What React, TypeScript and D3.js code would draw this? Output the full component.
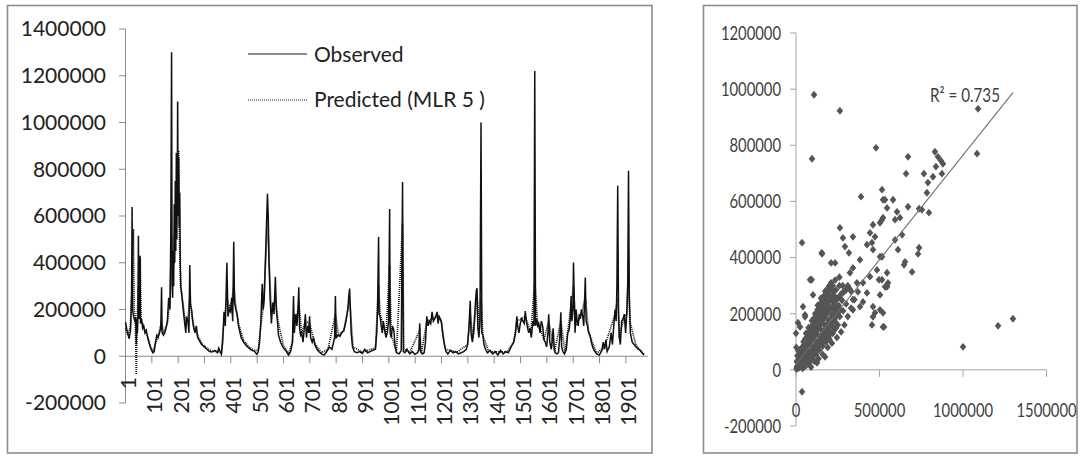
import React, { useMemo } from 'react';
import * as d3 from 'd3';

// ---------- DATA ----------
const leftYTicks = [-200000, 0, 200000, 400000, 600000, 800000, 1000000, 1200000, 1400000];
const leftXTicks = [1, 101, 201, 301, 401, 501, 601, 701, 801, 901, 1001, 1101, 1201, 1301, 1401, 1501, 1601, 1701, 1801, 1901];
const scatterYTicks = [-200000, 0, 200000, 400000, 600000, 800000, 1000000, 1200000];
const scatterXTicks = [0, 500000, 1000000, 1500000];
const seriesNames = ['Observed', 'Predicted (MLR 5 )'];
const r2Label = 'R² = 0.735';
const trendSlope = 0.745;
const trendIntercept = 20000;
const trendXMax = 1300000;

// [day index, value]
const observed: [number, number][] = [
  [1,146000],[5,120000],[10,95000],[15,75000],[20,110000],[24,260000],[26,638000],[28,200000],[31,175000],[34,160000],[37,150000],[40,165000],[42,50000],[44,160000],[46,100000],[48,155000],[50,515000],[52,180000],[54,160000],[56,430000],[58,140000],[62,160000],[66,120000],[70,130000],[75,100000],[80,110000],[85,80000],[90,60000],[95,40000],[100,25000],[105,15000],[110,20000],[115,60000],[120,90000],[125,80000],[130,100000],[135,120000],[138,295000],[140,100000],[145,90000],[150,100000],[155,120000],[160,150000],[165,250000],[170,200000],[173,520000],[176,1300000],[178,300000],[180,250000],[182,450000],[184,300000],[186,650000],[188,400000],[190,750000],[192,450000],[194,870000],[196,500000],[198,800000],[199,1090000],[201,600000],[203,850000],[205,550000],[207,700000],[209,400000],[211,300000],[213,280000],[216,250000],[220,200000],[225,150000],[230,100000],[233,170000],[238,150000],[242,100000],[245,390000],[248,220000],[252,200000],[256,150000],[260,120000],[265,100000],[270,130000],[275,80000],[280,70000],[290,50000],[300,40000],[310,30000],[320,20000],[330,18000],[340,25000],[350,15000],[355,35000],[360,20000],[365,8000],[370,60000],[375,190000],[380,130000],[386,400000],[390,170000],[395,200000],[400,190000],[404,250000],[408,150000],[412,490000],[415,230000],[420,200000],[425,180000],[430,130000],[440,80000],[450,60000],[460,45000],[470,35000],[480,25000],[490,22000],[500,8000],[505,20000],[510,60000],[515,150000],[520,310000],[524,200000],[528,250000],[532,400000],[536,550000],[540,695000],[543,600000],[546,400000],[550,250000],[555,140000],[560,230000],[565,180000],[570,340000],[574,200000],[578,150000],[582,90000],[590,60000],[598,40000],[605,30000],[612,20000],[620,5000],[628,20000],[635,60000],[639,258000],[642,100000],[648,180000],[652,130000],[656,200000],[659,295000],[662,120000],[666,90000],[670,100000],[675,60000],[680,120000],[684,180000],[688,80000],[693,130000],[697,100000],[700,171000],[704,80000],[710,60000],[715,80000],[720,50000],[728,30000],[735,20000],[745,10000],[755,5000],[765,20000],[775,40000],[785,30000],[795,80000],[798,258000],[801,80000],[808,90000],[815,85000],[822,100000],[830,110000],[838,150000],[845,200000],[849,258000],[852,290000],[855,200000],[858,100000],[863,40000],[870,20000],[880,15000],[890,20000],[900,12000],[910,30000],[920,15000],[930,20000],[940,25000],[950,30000],[955,100000],[958,200000],[962,510000],[964,180000],[968,170000],[972,130000],[976,100000],[980,150000],[984,120000],[990,80000],[995,100000],[1000,150000],[1004,630000],[1006,100000],[1010,80000],[1015,130000],[1020,110000],[1025,40000],[1030,15000],[1040,10000],[1048,25000],[1053,745000],[1056,20000],[1062,15000],[1070,30000],[1080,10000],[1090,20000],[1100,8000],[1110,15000],[1115,30000],[1118,141000],[1121,20000],[1128,10000],[1135,15000],[1140,60000],[1145,171000],[1150,130000],[1155,150000],[1160,140000],[1165,190000],[1170,150000],[1175,160000],[1180,170000],[1184,190000],[1188,140000],[1192,170000],[1196,160000],[1200,150000],[1205,100000],[1210,60000],[1218,20000],[1225,10000],[1235,25000],[1245,15000],[1255,20000],[1265,10000],[1275,15000],[1285,20000],[1295,30000],[1300,50000],[1305,120000],[1310,237000],[1313,100000],[1318,60000],[1323,100000],[1328,200000],[1333,280000],[1336,291000],[1339,120000],[1343,80000],[1347,150000],[1351,1000000],[1354,100000],[1358,90000],[1362,50000],[1368,30000],[1375,15000],[1385,25000],[1395,10000],[1405,20000],[1415,5000],[1425,25000],[1435,10000],[1445,20000],[1455,15000],[1465,40000],[1475,60000],[1482,100000],[1487,171000],[1490,130000],[1495,100000],[1500,140000],[1505,160000],[1510,150000],[1515,140000],[1519,193000],[1523,150000],[1528,120000],[1532,100000],[1537,120000],[1542,80000],[1548,150000],[1552,130000],[1555,1220000],[1558,130000],[1562,160000],[1566,130000],[1570,140000],[1575,100000],[1580,150000],[1585,130000],[1590,70000],[1595,60000],[1600,40000],[1605,100000],[1608,180000],[1612,60000],[1618,30000],[1625,120000],[1628,50000],[1632,15000],[1640,10000],[1645,15000],[1650,80000],[1654,188000],[1657,40000],[1662,20000],[1668,10000],[1675,30000],[1680,100000],[1685,110000],[1690,160000],[1693,258000],[1696,150000],[1700,200000],[1702,401000],[1705,250000],[1708,101000],[1712,200000],[1716,150000],[1720,130000],[1724,180000],[1728,160000],[1732,200000],[1737,170000],[1741,130000],[1747,337000],[1750,150000],[1755,130000],[1760,100000],[1765,90000],[1770,60000],[1775,40000],[1780,25000],[1790,10000],[1800,5000],[1810,25000],[1815,60000],[1820,30000],[1825,70000],[1830,20000],[1838,40000],[1845,100000],[1850,50000],[1855,130000],[1860,200000],[1864,150000],[1867,300000],[1870,729000],[1873,200000],[1876,80000],[1880,50000],[1885,150000],[1890,160000],[1895,180000],[1900,100000],[1905,200000],[1908,300000],[1911,794000],[1914,250000],[1918,100000],[1925,60000],[1932,50000],[1940,40000],[1948,30000],[1955,25000],[1962,15000],[1970,5000]
];

const predicted: [number, number][] = [
  [1,120000],[10,90000],[20,130000],[26,300000],[31,544000],[34,200000],[38,170000],[42,-78000],[45,150000],[50,300000],[53,180000],[57,420000],[60,150000],[66,140000],[75,110000],[85,85000],[95,45000],[105,20000],[115,55000],[125,85000],[138,150000],[145,100000],[160,140000],[170,250000],[176,520000],[180,300000],[187,500000],[193,600000],[199,700000],[203,880000],[206,500000],[210,300000],[220,220000],[230,130000],[238,160000],[245,250000],[250,200000],[260,130000],[275,90000],[290,55000],[310,35000],[330,22000],[350,20000],[365,15000],[375,150000],[386,250000],[395,210000],[404,230000],[412,300000],[420,210000],[430,140000],[450,65000],[470,40000],[490,25000],[505,25000],[515,130000],[525,220000],[535,450000],[540,600000],[546,420000],[555,180000],[570,250000],[580,150000],[600,50000],[620,10000],[635,60000],[640,180000],[650,150000],[659,230000],[670,100000],[684,150000],[700,140000],[720,55000],[745,15000],[770,30000],[798,180000],[810,90000],[830,110000],[852,240000],[865,40000],[900,18000],[950,35000],[962,300000],[968,180000],[990,90000],[1004,390000],[1010,90000],[1030,20000],[1053,565000],[1058,30000],[1080,15000],[1118,110000],[1125,15000],[1145,150000],[1170,160000],[1184,180000],[1200,150000],[1215,30000],[1260,18000],[1300,50000],[1310,180000],[1320,80000],[1336,250000],[1345,120000],[1351,250000],[1358,90000],[1380,20000],[1450,18000],[1475,60000],[1487,150000],[1519,170000],[1540,100000],[1555,322000],[1565,150000],[1590,70000],[1608,150000],[1630,20000],[1654,150000],[1670,15000],[1693,220000],[1702,300000],[1710,130000],[1732,180000],[1747,250000],[1760,100000],[1790,12000],[1820,40000],[1860,180000],[1870,250000],[1876,80000],[1895,170000],[1905,180000],[1911,408000],[1916,150000],[1940,45000],[1970,8000]
];

// [observed, predicted]
const scatterPoints: [number, number][] = [
  // dense cluster
  [5000,10000],[10000,5000],[10000,25000],[15000,15000],[20000,35000],[20000,8000],[25000,20000],[30000,45000],[30000,12000],[35000,30000],[40000,55000],[40000,20000],[45000,40000],[50000,70000],[50000,30000],[55000,50000],[60000,85000],[60000,35000],[65000,60000],[70000,100000],[70000,45000],[75000,70000],[80000,120000],[80000,50000],[85000,90000],[90000,130000],[90000,60000],[95000,100000],[100000,150000],[100000,70000],[105000,115000],[110000,170000],[110000,75000],[115000,125000],[120000,180000],[120000,85000],[125000,140000],[130000,195000],[130000,95000],[135000,150000],[140000,210000],[140000,100000],[145000,160000],[150000,225000],[150000,110000],[155000,170000],[160000,240000],[160000,120000],[165000,180000],[170000,250000],[170000,130000],[175000,190000],[180000,260000],[180000,140000],[185000,200000],[190000,270000],[190000,150000],[195000,210000],[200000,280000],[200000,155000],[205000,215000],[210000,290000],[210000,165000],[215000,225000],[220000,300000],[220000,170000],[225000,230000],[230000,240000],[230000,180000],[240000,250000],[240000,190000],[250000,255000],[250000,200000],[260000,260000],[265000,215000],[270000,270000],[280000,275000],[290000,280000],[300000,285000],[310000,300000],[320000,290000],[330000,280000],[25000,60000],[35000,80000],[45000,100000],[60000,130000],[15000,50000],[40000,5000],[60000,15000],[80000,25000],[100000,40000],[120000,55000],[140000,70000],[160000,85000],[180000,100000],[200000,110000],[220000,130000],[240000,150000],[115000,200000],[130000,230000],[150000,255000],[175000,280000],[200000,300000],[235000,320000],[260000,330000],[280000,300000],[190000,240000],[170000,220000],[150000,195000],[55000,110000],[75000,150000],[95000,175000],[5000,30000],[8000,50000],[12000,70000],[2000,80000],[0,130000],[30000,20000],[50000,15000],[90000,10000],[110000,30000],[135000,40000],[160000,55000],[190000,80000],[215000,95000],[245000,115000],[270000,135000],[290000,160000],[310000,190000],[330000,220000],[350000,250000],
  [20000,25000],[40000,48000],[60000,72000],[80000,98000],[100000,122000],[120000,146000],[140000,170000],[160000,195000],[180000,220000],[200000,245000],[220000,265000],[240000,285000],[260000,300000],
  [15000,12000],[35000,32000],[55000,50000],[75000,68000],[95000,86000],[115000,104000],[135000,122000],[155000,140000],[175000,158000],[195000,176000],[215000,194000],[235000,212000],[255000,230000],[275000,248000],
  [25000,14000],[50000,30000],[70000,43000],[90000,56000],[110000,68000],[130000,80000],[150000,93000],[170000,105000],[190000,118000],[210000,130000],[230000,143000],[250000,160000],
  [3000,3000],[7000,12000],[12000,8000],[18000,22000],[22000,14000],[28000,32000],[33000,22000],[38000,42000],[43000,30000],[48000,55000],
  [30000,60000],[50000,90000],[70000,120000],[90000,150000],[110000,185000],[130000,215000],[150000,240000],[170000,265000],[190000,290000],[210000,310000],
  [65000,80000],[85000,110000],[105000,135000],[125000,160000],[145000,185000],[165000,210000],[185000,235000],[205000,260000],[225000,280000],
  [65000,40000],[85000,55000],[105000,80000],[125000,100000],[145000,120000],[165000,140000],[185000,160000],[205000,180000],[225000,200000],[245000,220000],
  [40000,70000],[60000,100000],[80000,135000],[100000,162000],[120000,192000],[140000,225000],[160000,252000],[180000,272000],
  [30000,35000],[52000,60000],[72000,85000],[92000,112000],[112000,138000],[132000,162000],[152000,182000],[172000,205000],[192000,228000],[212000,250000],[232000,262000],
  [45000,22000],[75000,35000],[95000,48000],[117000,62000],[137000,90000],[157000,105000],[177000,122000],[197000,140000],[217000,155000],[237000,170000],[262000,190000],[282000,210000],[300000,235000],
  // scattered
  [24000,153000],[42000,225000],[54000,196000],[84000,321000],[102000,267000],[12000,168000],[54000,189000],[94000,321000],[36000,453000],[156000,413000],[154000,417000],[234000,381000],[210000,381000],[174000,46000],[126000,25000],[36000,-78000],
  [281000,470000],[341000,474000],[293000,439000],[317000,417000],[383000,392000],[341000,363000],[323000,346000],[425000,446000],[455000,453000],[473000,474000],[443000,488000],[461000,428000],[515000,403000],[497000,321000],[533000,296000],[401000,310000],[371000,278000],[401000,242000],[341000,250000],[341000,214000],[461000,225000],[473000,203000],[455000,160000],[521000,153000],[365000,310000],[425000,274000],[383000,225000],[461000,189000],[503000,214000],[545000,299000],[551000,310000],[443000,332000],[485000,356000],[503000,403000],
  [635000,481000],[593000,463000],[611000,428000],[653000,385000],[647000,374000],[695000,349000],[737000,435000],[731000,413000],[545000,346000],[515000,321000],[545000,296000],[503000,267000],[521000,203000],[527000,153000],
  [1000000,82000],[1210000,157000],[1299000,182000],
  [108000,980000],[263000,923000],[96000,752000],[479000,791000],[389000,617000],[515000,642000],[521000,606000],[545000,577000],[515000,535000],[503000,524000],[461000,517000],[263000,506000],
  [1090000,930000],[1084000,770000],[671000,759000],[659000,699000],[832000,777000],[850000,759000],[868000,745000],[880000,734000],[838000,724000],[766000,699000],[820000,688000],[874000,699000],[790000,667000],[784000,631000],[737000,574000],[754000,570000],[796000,560000],[671000,581000],[581000,606000],[533000,606000],[605000,563000],[593000,535000],[623000,542000],[521000,542000]
];

// ---------- CHART ----------
const FONT = 'Lato, "Open Sans", sans-serif';
const TEXT = '#222';
const AXIS = '#8a8a8a';

export default function App() {
  const L = useMemo(() => {
    const x = d3.scaleLinear().domain([1, 1985]).range([125.5, 648]);
    const y = d3.scaleLinear().domain([-200000, 1400000]).range([403, 29]);
    const line = d3.line<[number, number]>().x(d => x(d[0])).y(d => y(d[1]));
    return { x, y, obsPath: line(observed) || '', predPath: line(predicted) || '' };
  }, []);

  const S = useMemo(() => {
    const x = d3.scaleLinear().domain([0, 1500000]).range([796, 1046.5]);
    const y = d3.scaleLinear().domain([-200000, 1200000]).range([426, 33]);
    return { x, y };
  }, []);

  const diamond = 'M0,-3.9L3.3,0L0,3.9L-3.3,0Z';

  return (
    <svg width={1081} height={456} style={{ position: 'absolute', left: 0, top: 0, background: '#fff' }}
      fontFamily={FONT}>
      <rect x={0} y={0} width={1081} height={456} fill="#fff" />
      {/* panel borders */}
      <rect x={7.5} y={5.5} width={644.5} height={447.5} fill="none" stroke="#8c8c8c" strokeWidth={1.6} />
      <rect x={703.5} y={5.5} width={373.5} height={447.5} fill="none" stroke="#8c8c8c" strokeWidth={1.6} />

      {/* ===== Left chart ===== */}
      <line x1={125.5} x2={125.5} y1={L.y(1400000)} y2={L.y(-200000)} stroke={AXIS} strokeWidth={1} />
      {leftYTicks.map(t => (
        <g key={'ly' + t}>
          <line x1={119} x2={125.5} y1={L.y(t)} y2={L.y(t)} stroke={AXIS} />
          <text x={106} y={L.y(t)} dy="0.35em" textAnchor="end" fontSize={21} fill={TEXT}>{t}</text>
        </g>
      ))}
      <line x1={125.5} x2={648} y1={L.y(0)} y2={L.y(0)} stroke={AXIS} />
      {leftXTicks.map(t => (
        <g key={'lx' + t}>
          <line x1={L.x(t)} x2={L.x(t)} y1={L.y(0)} y2={L.y(0) + 7} stroke={AXIS} />
          <text transform={`translate(${L.x(t) + 3},${377}) rotate(-90)`} textAnchor="end" dy="0.35em"
            fontSize={21} fill={TEXT}>{t}</text>
        </g>
      ))}
      <path d={L.obsPath} fill="none" stroke="#111" strokeWidth={1.5} />
      <path d={L.predPath} fill="none" stroke="#111" strokeWidth={1.7} strokeDasharray="1,1" />

      {/* legend */}
      <line x1={248} x2={307} y1={54} y2={54} stroke="#1a1a1a" strokeWidth={1.2} />
      <text x={314} y={55} dy="0.35em" fontSize={21} fill={TEXT}>{seriesNames[0]}</text>
      <line x1={248} x2={307} y1={100} y2={100} stroke="#1a1a1a" strokeWidth={1.2} strokeDasharray="1,1" />
      <text x={314} y={100} dy="0.35em" fontSize={21} fill={TEXT}>{seriesNames[1]}</text>

      {/* ===== Scatter ===== */}
      <line x1={796} x2={796} y1={S.y(1200000)} y2={S.y(-200000)} stroke="#a6a6a6" />
      {scatterYTicks.map(t => (
        <g key={'sy' + t}>
          <line x1={790} x2={796} y1={S.y(t)} y2={S.y(t)} stroke="#a6a6a6" />
          <text transform={`translate(781,${S.y(t)}) scale(0.76,1)`} dy="0.35em" textAnchor="end" fontSize={19.5} fill="#404040">{t}</text>
        </g>
      ))}
      <line x1={796} x2={S.x(1500000)} y1={S.y(0)} y2={S.y(0)} stroke="#a6a6a6" />
      {scatterXTicks.map(t => (
        <g key={'sx' + t}>
          <line x1={S.x(t)} x2={S.x(t)} y1={S.y(0)} y2={S.y(0) + 7} stroke="#a6a6a6" />
          <text transform={`translate(${S.x(t)},${410}) scale(0.76,1)`} dy="0.35em" textAnchor="middle" fontSize={19.5} fill="#404040">{t}</text>
        </g>
      ))}
      {scatterPoints.map((p, i) => (
        <path key={'p' + i} d={diamond} transform={`translate(${S.x(p[0])},${S.y(p[1])})`} fill="#555" />
      ))}
      <line x1={S.x(0)} y1={S.y(trendIntercept)} x2={S.x(trendXMax)} y2={S.y(trendIntercept + trendSlope * trendXMax)}
        stroke="#6f6f6f" strokeWidth={1.1} />
      <text transform={`translate(930,95) scale(0.8,1)`} dy="0.35em" fontSize={19} fill="#404040">{r2Label}</text>
    </svg>
  );
}
